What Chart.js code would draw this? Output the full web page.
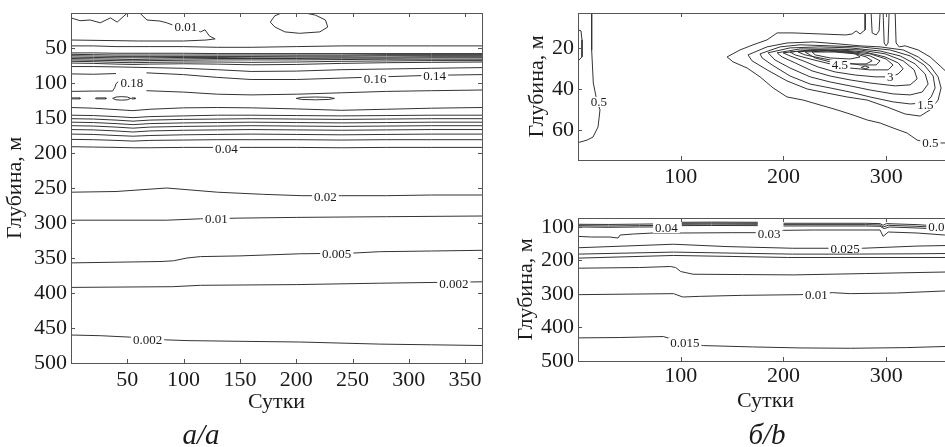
<!DOCTYPE html>
<html>
<head>
<meta charset="utf-8">
<script src="https://cdn.jsdelivr.net/npm/chart.js@4.4.1/dist/chart.umd.min.js"></script>
<style>
  html, body { margin: 0; padding: 0; background: #fff; overflow: hidden; }
  #wrap { position: relative; width: 945px; height: 447px; overflow: hidden; }
  canvas { position: absolute; }
  .cap { position: absolute; top: 420px; font: italic 29px "Liberation Serif", serif; line-height: 29px;
         color: #1a1a1a; white-space: nowrap; transform: translateX(-50%); }
</style>
</head>
<body>
<div id="wrap">
  <canvas id="chartA" width="500" height="447" style="left:0;top:0"></canvas>
  <canvas id="chartB1" width="460" height="200" style="left:500px;top:0"></canvas>
  <canvas id="chartB2" width="460" height="247" style="left:500px;top:200px"></canvas>
  <div class="cap" style="left:201px">а/a</div>
  <div class="cap" style="left:767px">б/b</div>
</div>
<script>
// ---------- panel a (days x depth, m) ----------
const xTicksA = [50, 100, 150, 200, 250, 300, 350];
const yTicksA = [50, 100, 150, 200, 250, 300, 350, 400, 450, 500];
// day grid shared by the flat isolines of panel a
const dayA = [0, 20, 40, 55, 70, 100, 130, 160, 200, 240, 280, 320, 365];
const a048 = [47, 47, 48, 48, 48, 48, 49, 49, 48, 47, 47, 47, 47];
const a058 = [57, 57, 57.5, 57.5, 57.5, 57.5, 58, 58, 58, 58, 58, 58, 58];
const a060 = [59, 59.5, 60, 60, 60, 60, 60, 60, 60, 60, 59.5, 59.5, 59.5];
const a062 = [61, 61.5, 62, 62, 62, 62, 62, 62, 61.5, 61.5, 61, 61, 61];
const a064 = [63, 63.5, 64, 64, 64, 63.5, 63.5, 63, 63, 63, 63, 62.5, 62.5];
const a066 = [65, 65.5, 66, 66.5, 66, 65.5, 65, 65, 65, 64.5, 64.5, 64, 64];
const a068 = [67, 67.5, 68, 68.5, 68, 67.5, 67, 67, 67, 66.5, 66, 66, 66];
const a070 = [69, 69.5, 70.5, 71, 70.5, 70, 70, 70.5, 70, 69, 68.5, 68, 68];
const a072 = [71.5, 72, 73, 73.5, 73, 72.5, 73, 74, 73.5, 72, 71, 70.5, 70];
const a078 = [76.5, 76.5, 77, 77.5, 78, 79, 81, 83.5, 83, 81, 80, 79, 78];
const a136 = [135, 136, 138, 139.5, 137.5, 135.5, 135, 135.5, 137, 139, 137.5, 136, 135];
const a147 = [146, 146.5, 148, 149.5, 148, 147, 146, 146, 146.5, 147, 146.5, 146, 146];
const a152 = [151, 151.5, 153, 154.5, 153, 152, 151.5, 151, 151.5, 152, 151.5, 151, 151];
const a157 = [156, 156.5, 158, 159.5, 158, 157, 156.5, 156, 156.5, 157, 156.5, 156, 156];
const a162 = [161, 161.5, 163, 164.5, 163, 162, 161.5, 161, 161.5, 162, 161.5, 161, 161];
const a167 = [166.5, 167, 168.5, 170, 168.5, 167.5, 167, 166.5, 167, 167.5, 167, 166.5, 166.5];
const a173 = [173, 173.5, 175, 176, 175, 174, 173.5, 173, 173.5, 174, 173.5, 173, 173];
const a181 = [180.5, 181, 182, 183, 182, 181.5, 181, 181, 181, 181.5, 181, 181, 181];
const a192 = [191, 191.5, 192, 192.5, 192.5, 192, 192, 192, 192, 192.5, 192, 192, 192];
const gridLinesA = [a048, a058, a060, a062, a064, a066, a068, a070, a072, a078,
                    a136, a147, a152, a157, a162, a167, a173, a181, a192];

// irregular isolines of panel a: [day, depth]
const aTop1 = [[0, 7], [8, 11], [17, 10], [26, 14], [35, 7], [41, 13], [50, 0]];
const aTop2 = [[61, 0], [67.5, 10], [79, 11.5], [85, 14], [90, 17], [102, 20], [115, 27], [119, 24],
               [123, 33], [128, 37], [120, 38.6], [100, 40], [60, 40], [40, 39.5], [0, 38.6]];
const aTopOval = [[187, 0], [181, 4], [177, 13], [181, 20], [190, 27], [203, 29], [221, 27], [228, 20],
                  [226, 10], [217, 3], [208, 0]];
const a088L = [[0, 87], [20, 87.5], [40, 86.5]];
const a088R = [[67, 85.5], [100, 88], [130, 92], [160, 95], [200, 95], [240, 93], [280, 91], [320, 89], [365, 88]];
const a018L = [[0, 112], [20, 111.5], [37, 111.5], [39, 106], [40, 101], [42, 98]];
const a018R = [[67, 111], [100, 113], [130, 116], [160, 117], [200, 116], [240, 114], [280, 112], [320, 111], [365, 110]];
const aLoop1 = [[1, 121.3], [8, 121.3], [8, 122.7], [1, 122.7], [1, 121.3]];
const aLoop2 = [[22, 121.3], [31, 121.3], [31, 122.7], [22, 122.7], [22, 121.3]];
const aLoop3 = [[37, 122], [40, 120], [45, 119.5], [50, 120], [53, 122], [50, 124], [45, 124.5], [40, 124], [37, 122]];
const aLoop4 = [[54, 121.3], [57, 121.3], [57, 122.7], [54, 122.7], [54, 121.3]];
const aLoop5 = [[200, 122], [205, 120.5], [217, 120], [229, 120.5], [234, 122], [229, 123.5], [217, 124], [205, 123.5], [200, 122]];
const a002 = [[0, 256], [40, 255], [85, 250], [130, 256], [170, 259], [205, 261], [240, 261], [280, 261], [320, 260], [365, 260]];
const a001 = [[0, 296], [85, 296], [115, 294], [150, 293], [200, 292], [280, 291], [365, 290]];
const a0005 = [[0, 357], [40, 356], [80, 355], [91, 354], [103, 350], [115, 348], [150, 347], [203, 344],
               [250, 343], [274, 341], [320, 340], [365, 339]];
const a0002U = [[0, 392], [90, 391], [115, 389], [200, 388], [274, 386], [365, 384]];
const a0002B = [[0, 460], [26, 461], [52, 463], [85, 467], [103, 468], [150, 469], [203, 470], [274, 473], [320, 474], [365, 475]];
const freeLinesA = [aTop1, aTop2, aTopOval, a088L, a088R, a018L, a018R, aLoop1, aLoop2, aLoop3, aLoop4, aLoop5,
                    a002, a001, a0005, a0002U, a0002B];
// contour labels: [text, day, depth]
const labelsA = [['0.01', 102, 20], ['0.18', 54, 100], ['0.16', 270, 93], ['0.14', 323, 89], ['0.04', 138, 193],
                 ['0.02', 226, 262], ['0.01', 129, 294], ['0.005', 236, 344], ['0.002', 340, 386], ['0.002', 68, 466]];

// ---------- panel b, upper part (0-75 m) ----------
const xTicksB = [100, 200, 300];
const yTicksB1 = [20, 40, 60];
const b1Left = [[13.3, 2.9], [13.3, 21], [14.9, 37.1], [18.2, 45.4], [21.4, 50.2], [19.5, 58.5], [14.6, 63.4],
                [8.8, 64.9], [1.9, 65.9], [0, 65.9]];
const b1Edge = [[0, 11.2], [2.9, 11.7], [3.9, 16.1], [3.9, 24.4], [1, 25.9], [0, 25.9]];
const b1c05 = [[279.5, 2.9], [279.5, 11.2], [274.6, 13.2], [270.7, 11.7], [266.8, 13.2], [261, 13.7], [235.6, 13.2],
               [209.3, 12.7], [193.8, 12.7], [184, 16.1], [170.4, 18.5], [157.7, 21], [145.1, 24.4], [150.9, 26.8],
               [164.6, 29.8], [177.2, 34.1], [189.9, 39.5], [203.5, 43.9], [219.1, 45.4], [235.6, 47.8],
               [252.2, 50.2], [267.8, 52.7], [281.4, 55.1], [294.1, 56.6], [306.7, 59], [320.4, 61.5],
               [330.1, 64.9], [342.7, 66.3], [367, 66.3]];
const b1Spike1 = [[285.3, 2.9], [286.3, 12.7], [290.2, 13.7], [293.1, 11.7], [294, 2.9]];
const b1Spike2 = [[297, 2.9], [298, 17.6], [299.9, 19], [301.8, 17.6], [302.8, 2.9]];
const b1Spike3 = [[308.7, 2.9], [309.6, 17.6], [312.6, 19.5], [318.4, 19], [331.1, 21], [342.7, 24.4], [352.5, 28.8], [367, 35.6]];
const b1c10 = [[165.5, 23.4], [184, 19.5], [203.5, 17.6], [228.8, 17.1], [252.2, 18], [274.6, 19], [294, 19.5],
               [316.5, 21], [331.1, 24.4], [342.7, 28.8], [350.5, 34.1], [353.4, 39.5], [350.5, 45.4], [342.7, 50.2],
               [333, 53.2], [318.4, 52.2], [300.9, 48.8], [281.4, 45.4], [261.9, 43.9], [242.5, 42], [223, 40],
               [203.5, 36.1], [184, 30.7], [169.4, 26.3], [165.5, 23.4]];
const b1c15 = [[177.2, 22.9], [196.7, 19.5], [216.2, 18.5], [245.4, 19], [274.6, 19.5], [303.8, 21], [323.3, 23.9],
               [336.9, 28.3], [345.7, 33.7], [347.6, 39.5], [343.7, 43.9], [337.9, 46.8], [323.3, 47.3],
               [306.7, 46.3], [284.3, 43.9], [264.8, 41.5], [245.4, 39.5], [225.9, 37.6], [206.4, 33.7],
               [188.9, 28.3], [179.2, 24.9], [177.2, 22.9]];
const b1c20 = [[185, 22.4], [206.4, 20], [235.6, 19.5], [264.8, 20], [294, 21.5], [313.5, 23.9], [328.1, 27.8],
               [337.9, 32.7], [340.8, 37.6], [335, 41.5], [323.3, 42.9], [306.7, 42.4], [284.3, 40.5], [264.8, 38.5],
               [245.4, 36.6], [225.9, 34.1], [206.4, 29.8], [191.8, 25.9], [185, 22.4]];
const b1c25 = [[193.8, 22.4], [216.2, 20.5], [245.4, 20.5], [274.6, 21], [298.9, 22.9], [316.5, 26.3], [327.2, 30.7],
               [330.1, 35.1], [323.3, 38], [308.7, 38.5], [284.3, 37.1], [264.8, 35.6], [245.4, 33.7], [227.8, 31.2],
               [211.3, 27.3], [198.6, 24.4], [193.8, 22.4]];
const b1c30 = [[199.6, 22.4], [225.9, 21], [255.1, 21], [279.5, 22], [298.9, 24.4], [311.6, 27.3], [316.5, 30.2],
               [311.6, 32.7], [303.8, 34.1], [289.2, 34.1], [269.7, 33.2], [250.2, 31.7], [233.7, 29.3],
               [219.1, 26.3], [206.4, 23.9], [199.6, 22.4]];
const b1c35 = [[206.4, 22], [230.8, 21], [260, 21.5], [284.3, 22.9], [299.9, 25.4], [306.7, 28.3], [301.8, 30.7],
               [284.3, 30.7], [264.8, 29.8], [245.4, 27.8], [225.9, 25.4], [211.3, 23.4], [206.4, 22]];
const b1c40 = [[214.2, 22], [235.6, 21], [264.8, 22], [284.3, 23.9], [294, 26.3], [290.2, 28.3], [274.6, 28.3],
               [255.1, 26.8], [235.6, 24.9], [221, 23.4], [214.2, 22]];
const b1c45 = [[221, 22], [243.4, 21.5], [266.8, 22.4], [280.4, 24.4], [286.3, 26.3], [280.4, 27.8], [262.9, 27.8],
               [245.4, 26.8], [230.8, 24.9], [221, 22]];
const b1c50 = [[227.8, 22], [250.2, 22], [269.7, 22.9], [274.6, 24.4], [264.8, 25.4], [245.4, 24.9], [230.8, 23.4], [227.8, 22]];
const b1Peak = [[275.6, 29.5], [279.5, 28.8], [283.4, 29.5], [279.5, 30.2], [275.6, 29.5]];
const linesB1 = [b1Left, b1Edge, b1c05, b1Spike1, b1Spike2, b1Spike3, b1c10, b1c15, b1c20, b1c25,
                 b1c30, b1c35, b1c40, b1c45, b1c50, b1Peak];
const labelsB1 = [['0.5', 20.4, 46.3], ['4.5', 255, 28.3], ['3', 304, 34.1], ['1.5', 338, 47.8], ['0.5', 343, 66.3]];

// ---------- panel b, lower part (75-500 m) ----------
const yTicksB2 = [100, 200, 300, 400, 500];
const b2L1 = [[0, 92], [30, 92.5], [60, 91.5], [74, 91]];
const b2L2 = [[0, 96], [30, 97], [60, 96], [74, 95.5]];
const b2L3 = [[0, 100], [30, 101], [60, 100], [90, 100]];
const b2M1 = [[101, 86], [130, 85.5], [175, 86]];
const b2M2 = [[101, 89], [130, 88.5], [175, 89]];
const b2M3 = [[101, 92], [130, 91.5], [175, 92]];
const b2M4 = [[101, 96], [130, 95.5], [175, 96]];
const b2R1 = [[200, 89], [280, 89], [294, 90], [297, 95], [300, 90], [330, 93], [365, 100]];
const b2R2 = [[200, 93], [280, 93], [294, 94], [297, 100], [302, 95], [330, 98], [365, 104]];
const b2R3 = [[200, 97], [280, 97], [294, 98], [298, 105], [303, 100], [330, 103], [365, 108]];
const b2c003L = [[0, 128], [13, 130], [31, 130], [39, 133], [41, 124], [54, 121], [73, 118], [102, 118],
                 [150, 117], [186, 117]];
const b2c003R = [[186, 117], [200, 110], [230, 109], [260, 109], [294, 109], [297, 128], [302, 115], [330, 118],
                 [357, 124], [365, 124]];
const b2c0025 = [[0, 162], [93, 151.5], [145, 158.5], [209, 163.5], [260, 163.5], [277, 163.5], [330, 157], [365, 155]];
const b2L181 = [[0, 181], [93, 175], [150, 178], [209, 181], [260, 181], [330, 180], [365, 179]];
const b2L192 = [[0, 193], [93, 185], [150, 188], [204, 191], [260, 191], [365, 191]];
const b2L223 = [[0, 223], [60, 221], [90, 218], [95, 221], [100, 233], [112, 241], [160, 242], [210, 243],
                [280, 239], [330, 236], [365, 234]];
const b2c001 = [[0, 302], [93, 299], [102, 309], [119, 307], [160, 304], [216, 302], [248, 296], [265, 299],
                [310, 297], [365, 290]];
const b2c0015 = [[0, 431], [40, 430], [83, 427], [104, 446], [122, 454], [170, 458], [216, 461], [265, 462],
                 [320, 460], [365, 456]];
const linesB2 = [b2L1, b2L2, b2L3, b2M1, b2M2, b2M3, b2M4, b2R1, b2R2, b2R3, b2c003L, b2c003R,
                 b2c0025, b2L181, b2L192, b2L223, b2c001, b2c0015];
const labelsB2 = [['0.04', 86, 103], ['0.03', 186, 121], ['0.06', 352, 99], ['0.025', 260, 163],
                  ['0.01', 232, 302], ['0.015', 104, 446]];

// ---------- drawing ----------
const INK = '#1a1a1a';
const LINE = '#333';
const tickFont = { family: 'Liberation Serif', size: 22 };
const yTickFont = { family: 'Liberation Serif', size: 22, lineHeight: 0.6 };

const frame = {
  id: 'frame',
  afterDraw(chart) {
    const { ctx, chartArea: a, scales } = chart;
    ctx.save();
    ctx.strokeStyle = '#555';
    ctx.lineWidth = 1;
    ctx.strokeRect(Math.round(a.left) + 0.5, Math.round(a.top) + 0.5,
                   Math.round(a.right - a.left), Math.round(a.bottom - a.top));
    ctx.beginPath();
    for (const t of scales.x.ticks) {
      const x = Math.round(scales.x.getPixelForValue(t.value)) + 0.5;
      ctx.moveTo(x, a.bottom); ctx.lineTo(x, a.bottom - 4);
      ctx.moveTo(x, a.top); ctx.lineTo(x, a.top + 4);
    }
    for (const t of scales.y.ticks) {
      const y = Math.round(scales.y.getPixelForValue(t.value)) + 0.5;
      ctx.moveTo(a.left, y); ctx.lineTo(a.left + 4, y);
      ctx.moveTo(a.right, y); ctx.lineTo(a.right - 4, y);
    }
    ctx.stroke();
    ctx.restore();
  }
};

const isoLabels = {
  id: 'isoLabels',
  afterDatasetsDraw(chart, args, opts) {
    const { ctx, chartArea: a, scales: { x, y } } = chart;
    ctx.save();
    ctx.beginPath();
    ctx.rect(a.left, a.top, a.right - a.left, a.bottom - a.top);
    ctx.clip();
    ctx.font = '13px "Liberation Serif"';
    ctx.textAlign = 'center';
    ctx.textBaseline = 'middle';
    for (const [txt, d, z] of opts.items) {
      const px = x.getPixelForValue(d);
      const py = y.getPixelForValue(z);
      const w = ctx.measureText(txt).width;
      ctx.fillStyle = '#fff';
      ctx.fillRect(px - w / 2 - 2, py - 5, w + 4, 10);
      ctx.fillStyle = INK;
      ctx.fillText(txt, px, py + 1);
    }
    ctx.restore();
  }
};

function toPts(pairs) {
  return pairs.map(([d, z]) => ({ x: d, y: z }));
}

function dataset(pts) {
  return { data: pts, showLine: true, borderColor: LINE, borderWidth: 1, pointRadius: 0, fill: false };
}

function panel(id, cfg) {
  new Chart(document.getElementById(id), {
    type: 'scatter',
    data: { datasets: cfg.lines.map(dataset) },
    options: {
      responsive: false,
      animation: false,
      events: [],
      layout: { padding: cfg.pad },
      plugins: { legend: { display: false }, tooltip: { enabled: false }, isoLabels: { items: cfg.labels } },
      scales: {
        x: {
          type: 'linear', min: 0, max: 365,
          grid: { display: false, drawTicks: false }, border: { display: false },
          afterBuildTicks: s => { s.ticks = cfg.xTicks.map(v => ({ value: v })); },
          afterFit: s => { s.height = cfg.xh; },
          ticks: { font: tickFont, color: INK, padding: cfg.xPad, maxRotation: 0, autoSkip: false },
          title: { display: cfg.xTitle, text: 'Сутки', font: tickFont, color: INK, padding: 0 }
        },
        y: {
          type: 'linear', reverse: true, min: cfg.yMin, max: cfg.yMax,
          grid: { display: false, drawTicks: false }, border: { display: false },
          afterBuildTicks: s => { s.ticks = cfg.yTicks.map(v => ({ value: v })); },
          afterFit: s => { s.width = cfg.yw; },
          ticks: { font: yTickFont, color: INK, padding: 4, autoSkip: false },
          title: { display: true, text: 'Глубина, м', font: tickFont, color: INK, padding: { top: cfg.yTitlePad, bottom: 0 } }
        }
      }
    },
    plugins: [frame, isoLabels]
  });
}

panel('chartA', {
  lines: gridLinesA.map(arr => toPts(arr.map((z, i) => [dayA[i], z]))).concat(freeLinesA.map(toPts)),
  labels: labelsA,
  pad: { top: 13, right: 18, bottom: 31.8, left: 0 },
  xh: 52.2, yw: 71, xPad: 3.8, yTitlePad: 1.8, xTitle: true,
  xTicks: xTicksA, yTicks: yTicksA, yMin: 0, yMax: 500
});

panel('chartB1', {
  lines: linesB1.map(toPts),
  labels: labelsB1,
  pad: { top: 13, right: 7, bottom: 0, left: 0 },
  xh: 40, yw: 78, xPad: 3.8, yTitlePad: 23.8, xTitle: false,
  xTicks: xTicksB, yTicks: yTicksB1, yMin: 3, yMax: 74.6
});

panel('chartB2', {
  lines: linesB2.map(toPts),
  labels: labelsB2,
  pad: { top: 18, right: 7, bottom: 32.1, left: 0 },
  xh: 53.9, yw: 78, xPad: 2.5, yTitlePad: 12.8, xTitle: true,
  xTicks: xTicksB, yTicks: yTicksB2, yMin: 73.2, yMax: 500
});
</script>
</body>
</html>
